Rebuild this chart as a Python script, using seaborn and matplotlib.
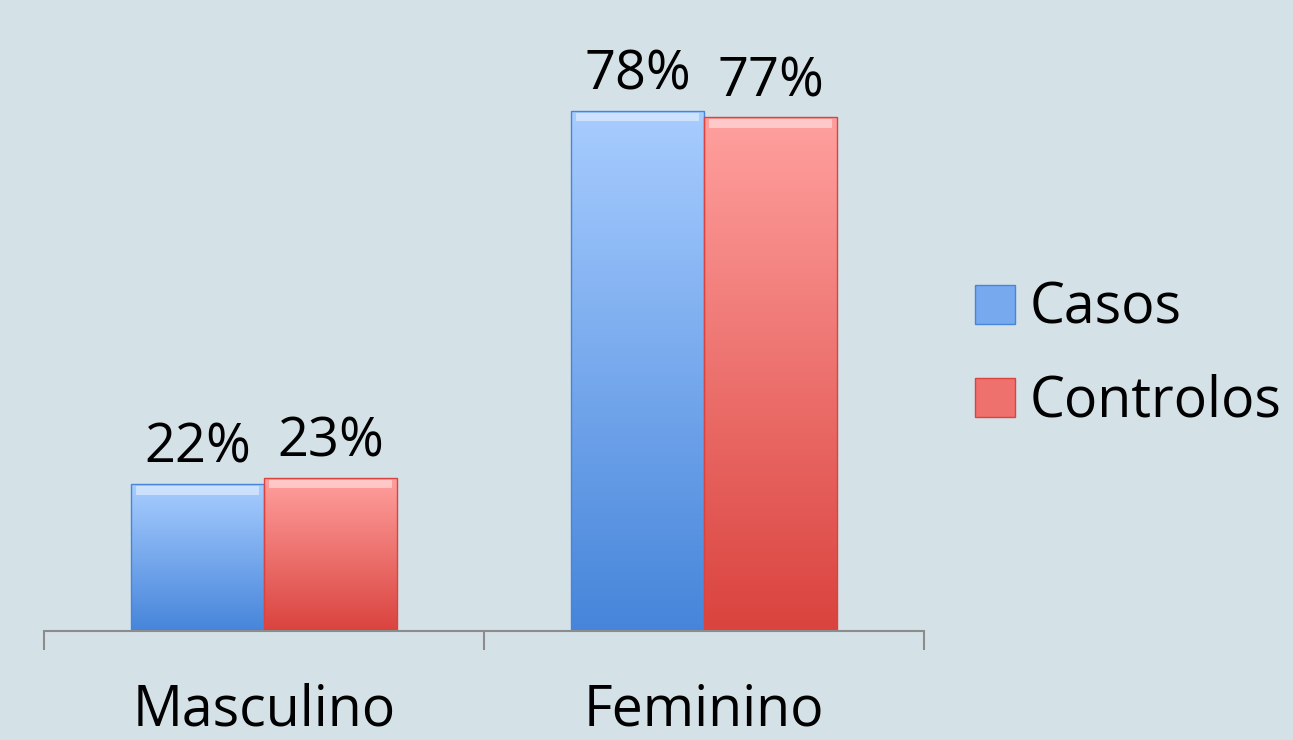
import numpy as np
import pandas as pd
import seaborn as sns
import matplotlib.pyplot as plt
from matplotlib.patches import Patch
from matplotlib.colors import LinearSegmentedColormap

categories = ["Masculino", "Feminino"]
series = ["Casos", "Controlos"]
casos = [22, 78]
controlos = [23, 77]

bg = "#D4E2E8"
top_colors = {"Casos": "#A8CDFF", "Controlos": "#FFA09E"}
bottom_colors = {"Casos": "#4685DA", "Controlos": "#DA433E"}
mid_colors = {"Casos": "#77A9EE", "Controlos": "#EF716D"}

df = pd.DataFrame({
    "sexo": categories * 2,
    "grupo": [series[0]] * 2 + [series[1]] * 2,
    "valor": casos + controlos,
})

sns.set_style("white")
plt.rcParams["font.family"] = ["Open Sans", "DejaVu Sans"]

fig = plt.figure(figsize=(12.93, 7.40), dpi=100, facecolor=bg)
ax = fig.add_axes([44 / 1293, 109 / 740, 880 / 1293, 631 / 740])
ax.set_facecolor(bg)

sns.barplot(data=df, x="sexo", y="valor", hue="grupo", order=categories,
            hue_order=series, palette=mid_colors, width=0.605, dodge=True,
            ax=ax, legend=False)

ax.set_ylim(0, 94.6)
ax.set_xlim(-0.5, 1.5)

# gradient fill for each bar
grad = np.linspace(0, 1, 256).reshape(-1, 1)
for name, cont in zip(series, ax.containers):
    cmap = LinearSegmentedColormap.from_list(name, [bottom_colors[name], top_colors[name]])
    for bar in cont:
        x, w, h = bar.get_x(), bar.get_width(), bar.get_height()
        bar.set_facecolor("none")
        bar.set_edgecolor(bottom_colors[name])
        bar.set_linewidth(1.0)
        im = ax.imshow(grad, cmap=cmap, origin="lower", aspect="auto",
                       extent=[x, x + w, 0, h], zorder=bar.get_zorder() - 0.1)
        im.set_clip_path(bar)
        # light highlight strip at top
        ax.fill_between([x + w * 0.04, x + w * 0.96], h - 1.6, h - 0.3,
                        color="white", alpha=0.45, lw=0, zorder=bar.get_zorder() + 0.1)
    ax.bar_label(cont, fmt="%d%%", padding=6, fontsize=39, color="black")

ax.set_xlabel("")
ax.set_ylabel("")
ax.set_yticks([])
for s in ["top", "right", "left"]:
    ax.spines[s].set_visible(False)
ax.spines["bottom"].set_color("#8C8C8C")
ax.spines["bottom"].set_linewidth(1.5)

ax.set_xticks([0, 1])
ax.set_xticklabels(categories, fontsize=40, color="black")
ax.tick_params(axis="x", which="major", length=0, pad=37)
ax.set_xticks([-0.5, 0.5, 1.5], minor=True)
ax.tick_params(axis="x", which="minor", bottom=True, length=14, width=1.5,
               color="#8C8C8C", direction="out")

handles = [Patch(facecolor=mid_colors[s], edgecolor=bottom_colors[s], label=s) for s in series]
leg = ax.legend(handles=handles, loc="center left", bbox_to_anchor=(1.058, 0.436),
                frameon=False, fontsize=40, handlelength=0.72, handleheight=0.72,
                handletextpad=0.27, labelspacing=0.65, borderpad=0, borderaxespad=0)
for t in leg.get_texts():
    t.set_color("black")

fig.savefig("out.png", dpi=100, facecolor=bg)
